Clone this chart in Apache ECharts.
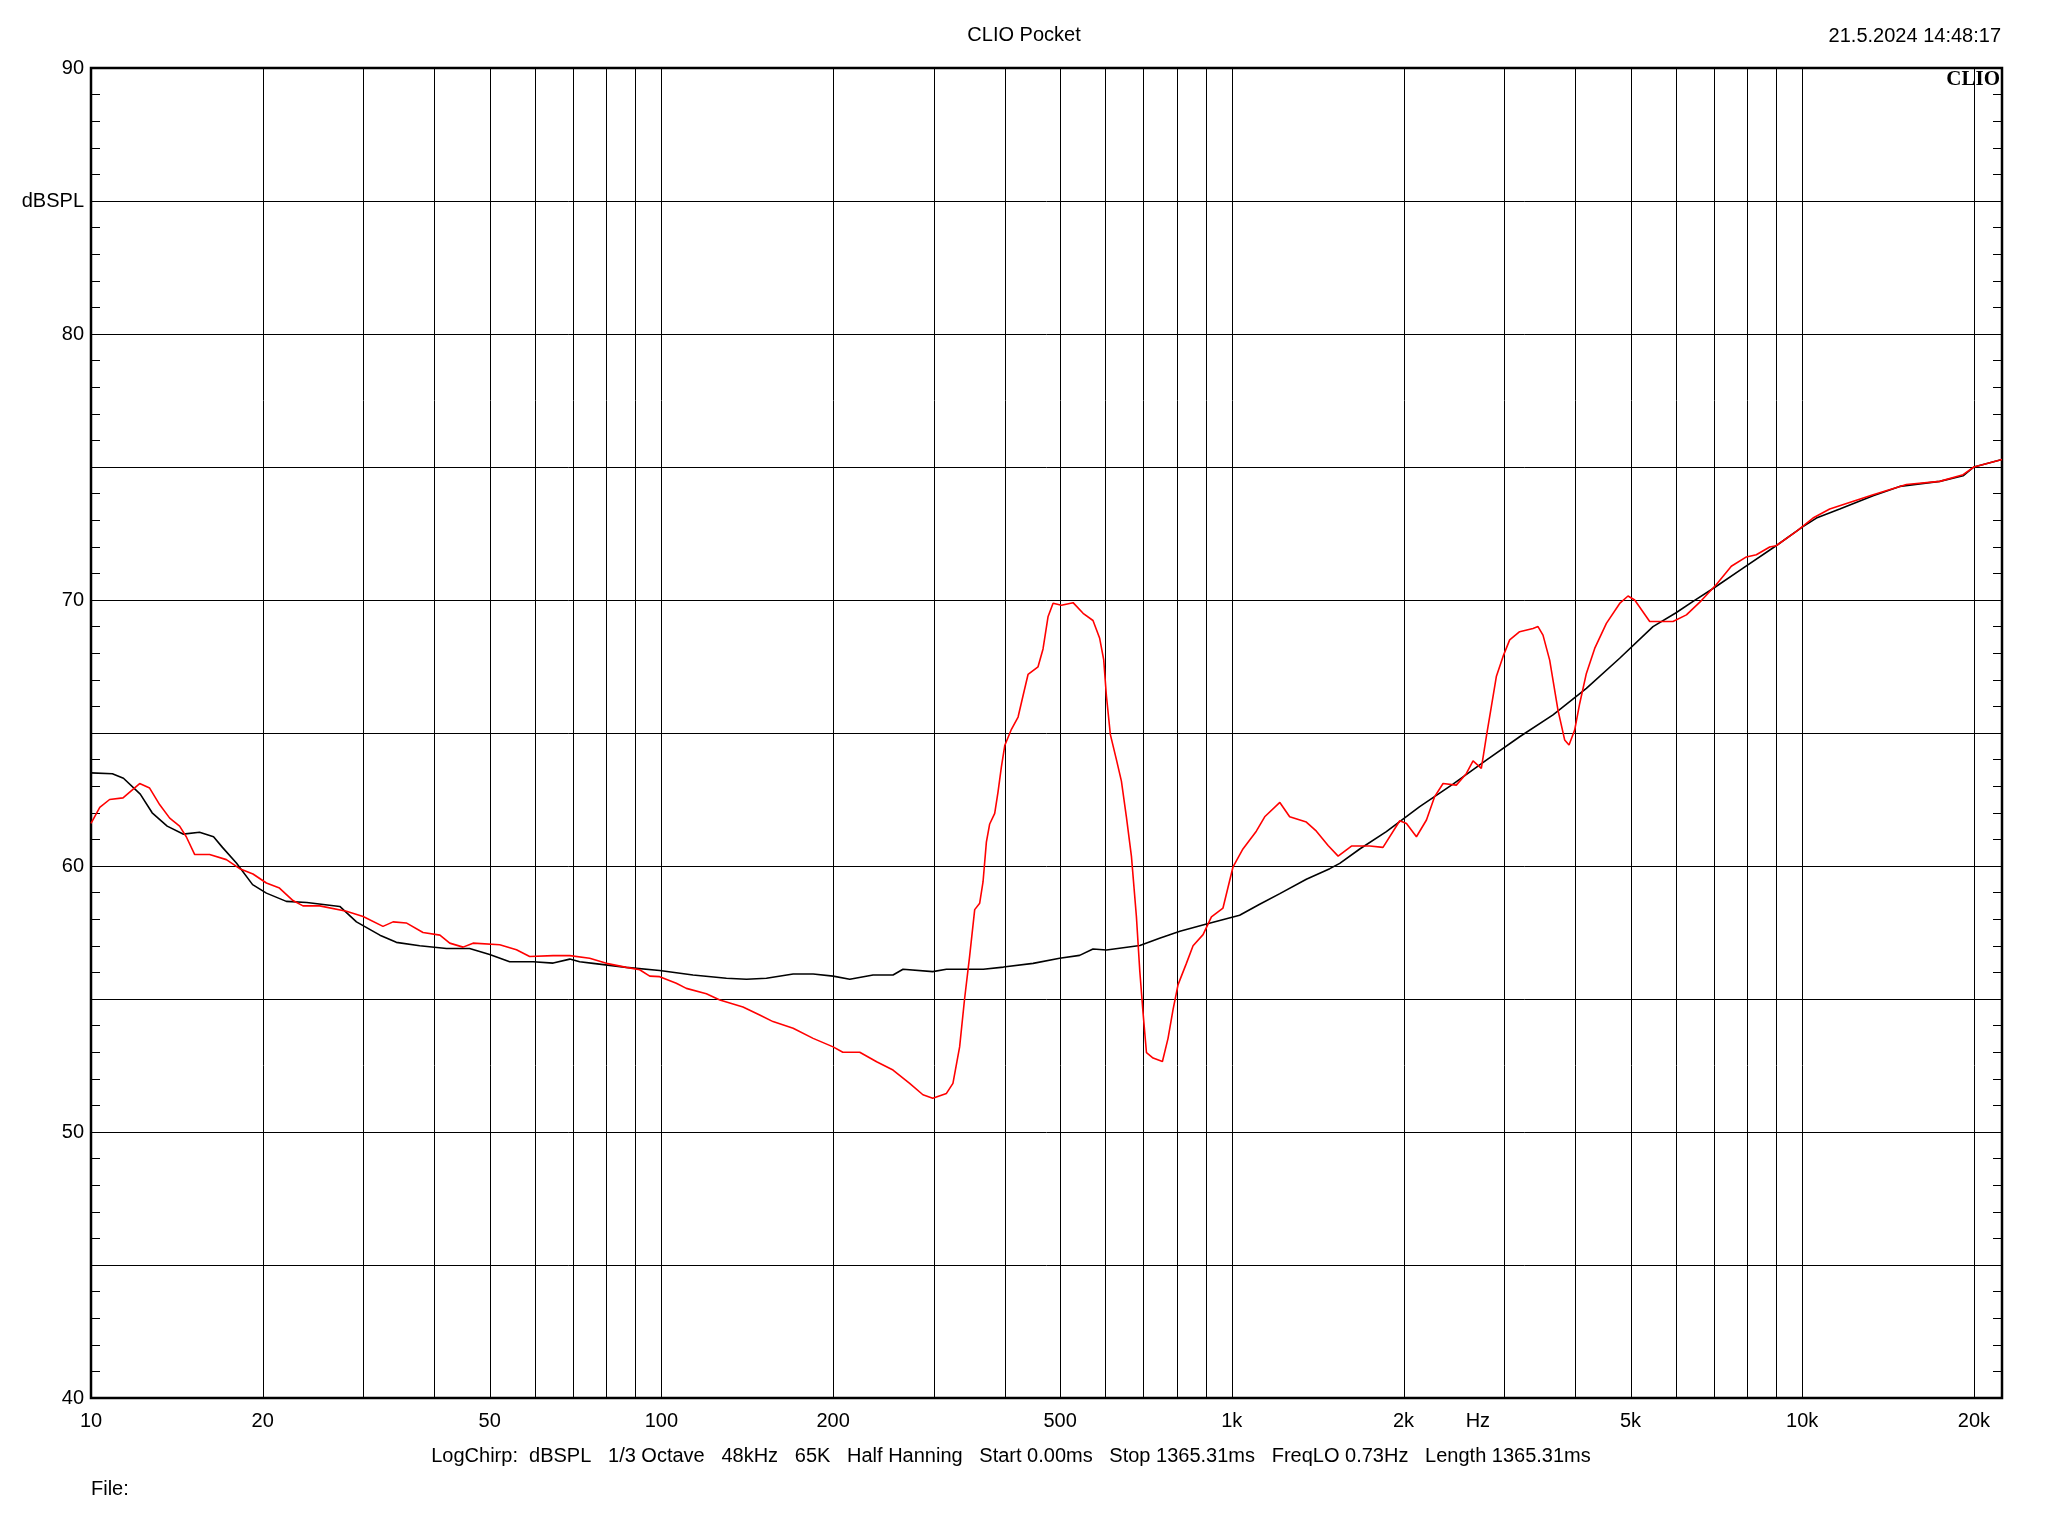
<!DOCTYPE html>
<html>
<head>
<meta charset="utf-8">
<script src="https://cdn.jsdelivr.net/npm/echarts@6/dist/echarts.min.js"></script>
<style>
html,body{margin:0;padding:0;background:#fff;}
#chart{width:2048px;height:1536px;}
</style>
</head>
<body>
<div id="chart"></div>
<script>
// ---- data (frequency in Hz, level in dBSPL) ----
const blackFreq = [10,10.9,11.4,12.2,12.8,13.6,14.5,15.5,16.4,17.0,18.0,19.2,20.3,22.0,23.9,27.3,29.2,32.1,34.3,37.7,42.0,46.1,50.0,54.2,59.6,64.6,69.1,71.9,75.9,86.8,99.3,113.6,130,141,152.8,170.2,184.5,200,213.9,235,254.7,265.2,299,316,366.7,397.8,448.4,499,541,571,603,690,747,811,903,1032,1119,1214,1351,1485,1546,1676,1866,2135,2442,2794,3196,3657,4184,4786,5475,6000,6437,7000,7876,9000,10000,10590,11636,13313,14826,17421,19144,20000,22400];
const blackDb = [63.5,63.47,63.3,62.7,62.0,61.5,61.2,61.27,61.1,60.7,60.1,59.3,58.98,58.67,58.63,58.48,57.9,57.4,57.13,57.0,56.9,56.9,56.67,56.4,56.4,56.35,56.5,56.4,56.34,56.19,56.07,55.9,55.78,55.74,55.78,55.94,55.94,55.86,55.74,55.9,55.9,56.12,56.03,56.12,56.12,56.2,56.34,56.53,56.64,56.88,56.84,57.01,57.28,57.55,57.82,58.15,58.56,58.96,59.5,59.9,60.1,60.64,61.29,62.23,63.08,63.98,64.86,65.68,66.68,67.81,69.0,69.51,69.95,70.45,71.2,72.04,72.74,73.08,73.42,73.92,74.27,74.46,74.67,75.0,75.28];

const redFreq = [10,10.36,10.78,11.38,12.17,12.67,13.2,13.74,14.3,14.69,15.2,16.14,17.27,18.23,19.23,20.3,21.4,22.6,23.53,25.17,28.04,30.0,32.5,33.85,35.7,38.2,40.9,42.55,44.9,46.75,52.07,55.7,58.75,64.6,69.1,74.85,80.1,86.8,91.6,95.4,99.3,106.2,110.6,119.9,126.6,139,148.7,156.9,170.2,184.5,200,208,222.7,238.4,254.7,272.4,287.4,299,316,324.4,333.3,340,347,354.2,361.4,366.3,371.3,376.3,384,389.2,394.5,399.9,410.8,422,430.5,439.3,457.4,466.7,476.2,486,502.8,526.9,548.6,571,586.6,596.2,602.7,612.5,627.6,640.4,653.4,666.8,680.4,689.6,699,708.6,727.8,755.7,773,788.8,805,832.5,855.2,890.4,921,965,1005,1046,1104,1142,1214,1263,1351,1407,1475,1536,1621,1745,1841,1970,2024,2107,2194,2268,2346,2475,2578,2648,2738,2794,2851,2909,2988,3070,3196,3373,3442,3512,3608,3731,3833,3901,3991,4073,4184,4327,4536,4786,4950,5085,5403,5626,5935,6266,6650,7071,7511,7982,8309,8770,9000,9768,10445,11174,13313,15230,17421,19144,20000,22400];
const redDb = [61.6,62.2,62.5,62.56,63.1,62.93,62.3,61.8,61.5,61.1,60.43,60.43,60.24,59.9,59.7,59.36,59.17,58.7,58.5,58.5,58.3,58.1,57.73,57.9,57.86,57.5,57.4,57.1,56.95,57.1,57.04,56.85,56.6,56.63,56.63,56.53,56.34,56.19,56.1,55.86,55.84,55.59,55.4,55.2,54.96,54.7,54.4,54.15,53.9,53.52,53.2,53.0,53.0,52.64,52.33,51.83,51.4,51.27,51.45,51.83,53.2,55.0,56.6,58.36,58.6,59.4,60.9,61.58,61.98,62.79,63.73,64.53,65.14,65.6,66.4,67.2,67.49,68.16,69.37,69.88,69.8,69.9,69.5,69.23,68.56,67.76,66.41,64.94,64.0,63.19,61.85,60.37,58.09,56.07,54.46,52.98,52.78,52.65,53.52,54.6,55.54,56.34,57.0,57.42,58.09,58.42,59.97,60.64,61.31,61.85,62.39,61.85,61.65,61.31,60.77,60.37,60.75,60.75,60.7,61.7,61.6,61.1,61.73,62.61,63.1,63.04,63.48,63.95,63.67,64.86,65.99,67.12,67.87,68.5,68.81,68.93,69.0,68.68,67.74,65.86,64.74,64.55,65.11,66.11,67.24,68.18,69.12,69.87,70.15,70.0,69.19,69.19,69.19,69.44,69.97,70.58,71.27,71.62,71.7,71.99,72.04,72.58,73.08,73.42,73.96,74.34,74.46,74.71,75.0,75.28];

// ---- axis definitions ----
const X_MIN = 10, X_MAX = 22400;
const Y_MIN = 40, Y_MAX = 90, Y_STEP = 5;
const gridFreqs = [20,30,40,50,60,70,80,90,100,200,300,400,500,600,700,800,900,1000,2000,3000,4000,5000,6000,7000,8000,9000,10000,20000];
const xTickFreqs = [10,20,50,100,200,500,1000,2000,2700,5000,10000,20000];
const xTickTexts = ['10','20','50','100','200','500','1k','2k','Hz','5k','10k','20k'];

const FONT = '"Liberation Sans", Arial, sans-serif';

const chart = echarts.init(document.getElementById('chart'), null, {renderer:'canvas'});

const pairs = (xs, ys) => xs.map((x, i) => [x, ys[i]]);

const yAxisCommon = {
  type:'value', min:Y_MIN, max:Y_MAX, interval:Y_STEP,
  axisLine:{show:false},
  axisTick:{show:true, inside:true, length:9, lineStyle:{color:'#000', width:1}},
  minorTick:{show:true, splitNumber:5, length:9, lineStyle:{color:'#000', width:1}},
  minorSplitLine:{show:false}
};

chart.setOption({
  animation:false,
  backgroundColor:'#fff',
  title:{
    text:'CLIO Pocket', left:'center', top:20,
    textStyle:{fontFamily:FONT, fontSize:20, fontWeight:'normal', color:'#000'}
  },
  grid:{left:91, right:46, top:68, bottom:138, show:true, borderColor:'#000', borderWidth:2.5, backgroundColor:'transparent'},
  xAxis:{
    type:'log', logBase:10, min:X_MIN, max:X_MAX,
    axisLine:{show:false}, axisTick:{show:false}, axisLabel:{show:false}, splitLine:{show:false}
  },
  yAxis:[
    Object.assign({}, yAxisCommon, {
      position:'left',
      splitLine:{show:true, lineStyle:{color:'#000', width:1}},
      axisLabel:{
        show:true, margin:7, color:'#000', fontFamily:FONT, fontSize:20,
        formatter:function(v){ if (v === 85) return 'dBSPL'; return (v % 10 === 0) ? String(v) : ''; }
      }
    }),
    Object.assign({}, yAxisCommon, {
      position:'right',
      splitLine:{show:false},
      axisLabel:{show:false}
    })
  ],
  graphic:[
    {type:'text', right:47, top:26, style:{text:'21.5.2024 14:48:17', fill:'#000', font:'20px ' + FONT}},
    {type:'text', right:48, top:69, z:100, style:{text:'CLIO', fill:'#000', font:'bold 21px "Liberation Serif", "Times New Roman", serif'}},
    {type:'text', left:91, top:1479, style:{text:'File:', fill:'#000', font:'20px ' + FONT}},
    {type:'text', x:1011, y:1456, style:{text:'LogChirp:  dBSPL   1/3 Octave   48kHz   65K   Half Hanning   Start 0.00ms   Stop 1365.31ms   FreqLO 0.73Hz   Length 1365.31ms', fill:'#000', font:'20px ' + FONT, align:'center', verticalAlign:'middle'}}
  ],
  series:[
    {
      type:'custom', name:'xgrid', z:1, silent:true,
      data: gridFreqs.map(f => [f, Y_MIN]),
      encode:{x:0, y:1},
      renderItem:function(params, api){
        const f = api.value(0);
        const p1 = api.coord([f, Y_MIN]);
        const p2 = api.coord([f, Y_MAX]);
        const x = Math.round(p1[0]) + 0.5;
        return {type:'line', shape:{x1:x, y1:p1[1], x2:x, y2:p2[1]}, style:{stroke:'#000', lineWidth:1}};
      }
    },
    {
      type:'custom', name:'xlabels', z:2, silent:true, clip:false,
      data: xTickFreqs.map((f, i) => [f, Y_MIN, i]),
      encode:{x:0, y:1},
      renderItem:function(params, api){
        const f = api.value(0);
        const idx = api.value(2);
        const p = api.coord([f, Y_MIN]);
        return {type:'text', x:p[0], y:p[1] + 13, style:{text:xTickTexts[idx], fill:'#000', font:'20px ' + FONT, align:'center', verticalAlign:'top'}};
      }
    },
    {
      type:'line', name:'black', z:5, showSymbol:false, symbol:'none',
      data: pairs(blackFreq, blackDb),
      lineStyle:{color:'#000', width:1.6}
    },
    {
      type:'line', name:'red', z:6, showSymbol:false, symbol:'none',
      data: pairs(redFreq, redDb),
      lineStyle:{color:'#ff0000', width:1.6}
    }
  ]
});
</script>
</body>
</html>
